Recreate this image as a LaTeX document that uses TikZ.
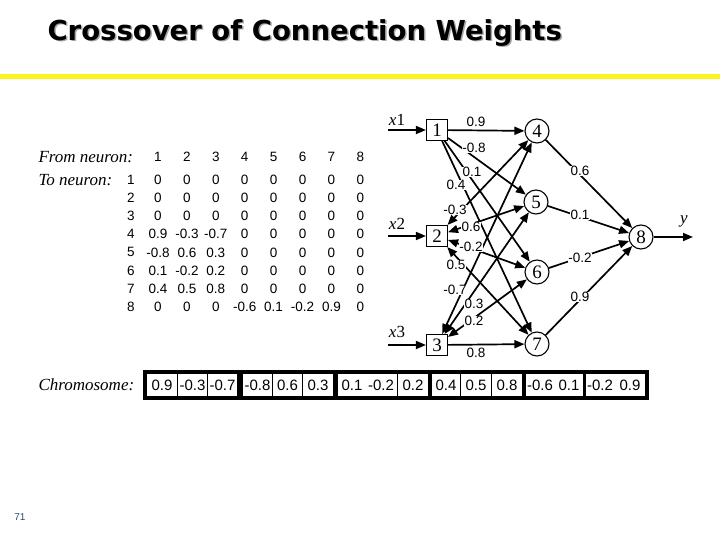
\documentclass[tikz,border=0pt]{standalone}
\usepackage{fontspec}
\setmainfont{Liberation Sans}
\newfontfamily\tmsfont{Liberation Serif}
\newfontfamily\titlefont{DejaVu Sans}
\usetikzlibrary{arrows.meta, positioning}

\definecolor{slideyellow}{RGB}{248,244,28}
\definecolor{pagenum}{RGB}{50,70,120}

\tikzset{
    inp/.style={draw, line width=1.1pt, minimum width=21pt, minimum height=21pt, inner sep=0pt, font=\tmsfont\fontsize{19}{19}\selectfont},
    neu/.style={circle, draw, line width=1.1pt, minimum size=24pt, inner sep=0pt, font=\tmsfont\fontsize{19}{19}\selectfont},
    wire/.style={line width=1.7pt, -{Triangle[length=10pt,width=8pt]}},
    wires/.style={line width=1.7pt, {Triangle[length=10pt,width=8pt]}-{Triangle[length=10pt,width=8pt]}},
    wlab/.style={fill=white, inner sep=0.6pt, font=\fontsize{13.5}{13.5}\selectfont},
    vlab/.style={font=\tmsfont\itshape\fontsize{17}{17}\selectfont},
    mval/.style={inner sep=0pt, font=\fontsize{13.5}{13.5}\selectfont},
    cval/.style={inner sep=0pt, font=\fontsize{15}{15}\selectfont}
}

\begin{document}
\begin{tikzpicture}[x=1pt, y=-1pt]
    \useasboundingbox (0,0) rectangle (720,540);
    % Title and rule
    \node[anchor=west, text=black!35, font=\titlefont\bfseries\fontsize{27.5}{27.5}\selectfont] (titleshadow) at (45.5,34.5) {Crossover of Connection Weights};
    \node[anchor=west, font=\titlefont\bfseries\fontsize{27.5}{27.5}\selectfont] (title) at (44,33) {Crossover of Connection Weights};
    \fill[slideyellow] (0,74.5) rectangle (720,79.5);
    \node[text=pagenum, font=\fontsize{10}{10}\selectfont] (page) at (20,517) {71};

    % Connection matrix
    \node[anchor=west, vlab] (from) at (35,157) {From neuron:};
    \node[anchor=west, vlab] (to) at (35,180) {To neuron:};
    \foreach \c in {1,...,8}
        \node[mval] (h-\c) at ({158+(\c-1)*28.9},157) {\c};
    \foreach \r in {1,...,8}
        \node[mval] (r-\r) at (131,{180+(\r-1)*18.1}) {\r};
    \foreach \row [count=\r] in {{0,0,0,0,0,0,0,0},{0,0,0,0,0,0,0,0},{0,0,0,0,0,0,0,0},
            {0.9,-0.3,-0.7,0,0,0,0,0},{-0.8,0.6,0.3,0,0,0,0,0},{0.1,-0.2,0.2,0,0,0,0,0},
            {0.4,0.5,0.8,0,0,0,0,0},{0,0,0,-0.6,0.1,-0.2,0.9,0}} {
        \foreach \v [count=\c] in \row
            \node[mval] (m-\r-\c) at ({158+(\c-1)*28.9},{180+(\r-1)*18.1}) {\v};
    }

    % Chromosome
    \node[anchor=west, vlab] (chrom) at (35,385) {Chromosome:};
    \fill[black] (143,370) rectangle (649,400);
    \foreach \xa/\xb in {147/177,178/207,208/237,243/272,273/302,303/333,338/397,398/428,
            432/460,461/491,492/522,526/583,586/645}
        \fill[white] (\xa,374) rectangle (\xb,396);
    \foreach \v [count=\i] in {0.9,-0.3,-0.7,-0.8,0.6,0.3,0.1,-0.2,0.2,0.4,0.5,0.8,-0.6,0.1,-0.2,0.9}
        \node[cval] (g-\i) at ({\ifcase\i\or162\or192.5\or222.5\or257.5\or287.5\or318\or352\or381\or413\or446\or476\or507\or540\or569\or600\or630\fi},385) {\v};

    % Network
    \node[inp] (n1) at (437,130) {1};
    \node[inp] (n2) at (437,236) {2};
    \node[inp] (n3) at (437,345) {3};
    \node[neu] (n4) at (537,131) {4};
    \node[neu] (n5) at (536,202) {5};
    \node[neu] (n6) at (537,272) {6};
    \node[neu] (n7) at (537,344) {7};
    \node[neu] (n8) at (641,237) {8};

    \coordinate (in1) at (388,130);
    \coordinate (in2) at (388,236);
    \coordinate (in3) at (388,345);
    \coordinate (out) at (693,237);
    \node[vlab] (lx1) at (397,120) {x\upshape1};
    \node[vlab] (lx2) at (397,224) {x\upshape2};
    \node[vlab] (lx3) at (397,332) {x\upshape3};
    \node[vlab] (ly) at (684,221) {y};
    \draw[wire] (in1) -- (n1);
    \draw[wire] (in2) -- (n2);
    \draw[wire] (in3) -- (n3);
    \draw[wire] (n8) -- (out);

    % Input to hidden
    \draw[wire] (n1) -- (n4);
    \draw[wire] (n1) -- (n5);
    \draw[wire] (n1) -- (n6);
    \draw[wire] (n1) -- (n7);
    \draw[wires] (n2) -- (n4);
    \draw[wires] (n2) -- (n5);
    \draw[wires] (n2) -- (n6);
    \draw[wires] (n2) -- (n7);
    \draw[wires] (n3) -- (n4);
    \draw[wires] (n3) -- (n5);
    \draw[wires] (n3) -- (n6);
    \draw[wire] (n3) -- (n7);
    % Hidden to output
    \draw[wire] (n4) -- (n8);
    \draw[wire] (n5) -- (n8);
    \draw[wire] (n6) -- (n8);
    \draw[wire] (n7) -- (n8);

    % Weights
    \node[wlab] (w14) at (476,122) {0.9};
    \node[wlab] (w15) at (474,148) {-0.8};
    \node[wlab] (w16) at (472,172) {0.1};
    \node[wlab] (w17) at (456,185) {0.4};
    \node[wlab] (w24) at (455,210) {-0.3};
    \node[wlab] (w25) at (471,227) {0.6};
    \node[wlab] (w26) at (471,247) {-0.2};
    \node[wlab] (w27) at (456,265) {0.5};
    \node[wlab] (w34) at (455,290) {-0.7};
    \node[wlab] (w35) at (474,304) {0.3};
    \node[wlab] (w36) at (474,321) {0.2};
    \node[wlab] (w37) at (476,353) {0.8};
    \node[wlab] (w48) at (580,171) {0.6};
    \node[wlab] (w58) at (580,215) {0.1};
    \node[wlab] (w68) at (580,258) {-0.2};
    \node[wlab] (w78) at (580,297) {0.9};
\end{tikzpicture}
\end{document}
